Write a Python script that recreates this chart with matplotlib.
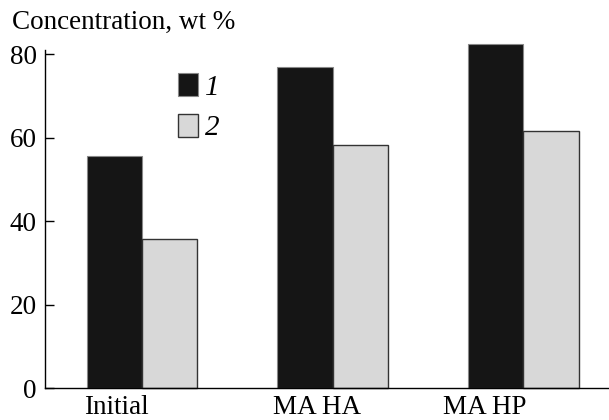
import numpy as np
import matplotlib
matplotlib.use("Agg")
import matplotlib.pyplot as plt

# data
samples = ["Initial", "MA HA", "MA HP"]
series1 = [55.5, 76.9, 82.5]
series2 = [35.8, 58.2, 61.5]
series_labels = ["1", "2"]
yticks = [0, 20, 40, 60, 80]

plt.rcParams['font.family'] = ['Liberation Serif', 'DejaVu Serif']
plt.rcParams['font.size'] = 19.5

fig = plt.figure(figsize=(6.09, 4.2), dpi=100)
ax = fig.add_axes([45/609, 1 - 388/420, 1 - 45/609, 338/420])

x = np.arange(len(samples))
w = 0.29
b1 = ax.bar(x - w/2, series1, w, color='#151515', edgecolor='#888888',
            linewidth=0.8, clip_on=False, label=series_labels[0])
b2 = ax.bar(x + w/2, series2, w, color='#d8d8d8', edgecolor='#333333',
            linewidth=1.0, clip_on=False, label=series_labels[1])

ax.set_xlim(-0.51, 2.45)
ax.set_ylim(0, 81)
ax.set_yticks(yticks)
ax.set_xticks(x - np.array([0.136, 0.084, 0.2]))
ax.set_xticklabels(samples)
ax.tick_params(axis='y', direction='in', length=6.5, width=1, pad=6)
ax.tick_params(axis='x', length=0, pad=5)
ax.spines['top'].set_visible(False)
ax.spines['right'].set_visible(False)
for s in ['left', 'bottom']:
    ax.spines[s].set_linewidth(1.0)

fig.text(12/609, 1 - 29/420, "Concentration, wt %", ha='left', va='baseline')

leg = ax.legend(loc='upper left', bbox_to_anchor=(178/609, 1 - 73/420),
                bbox_transform=fig.transFigure, frameon=False,
                handlelength=0.68, handleheight=0.84, handletextpad=0.25,
                labelspacing=0.45, borderpad=0, borderaxespad=0,
                prop={'style': 'italic', 'size': 21})

fig.savefig("out.png", dpi=100)
